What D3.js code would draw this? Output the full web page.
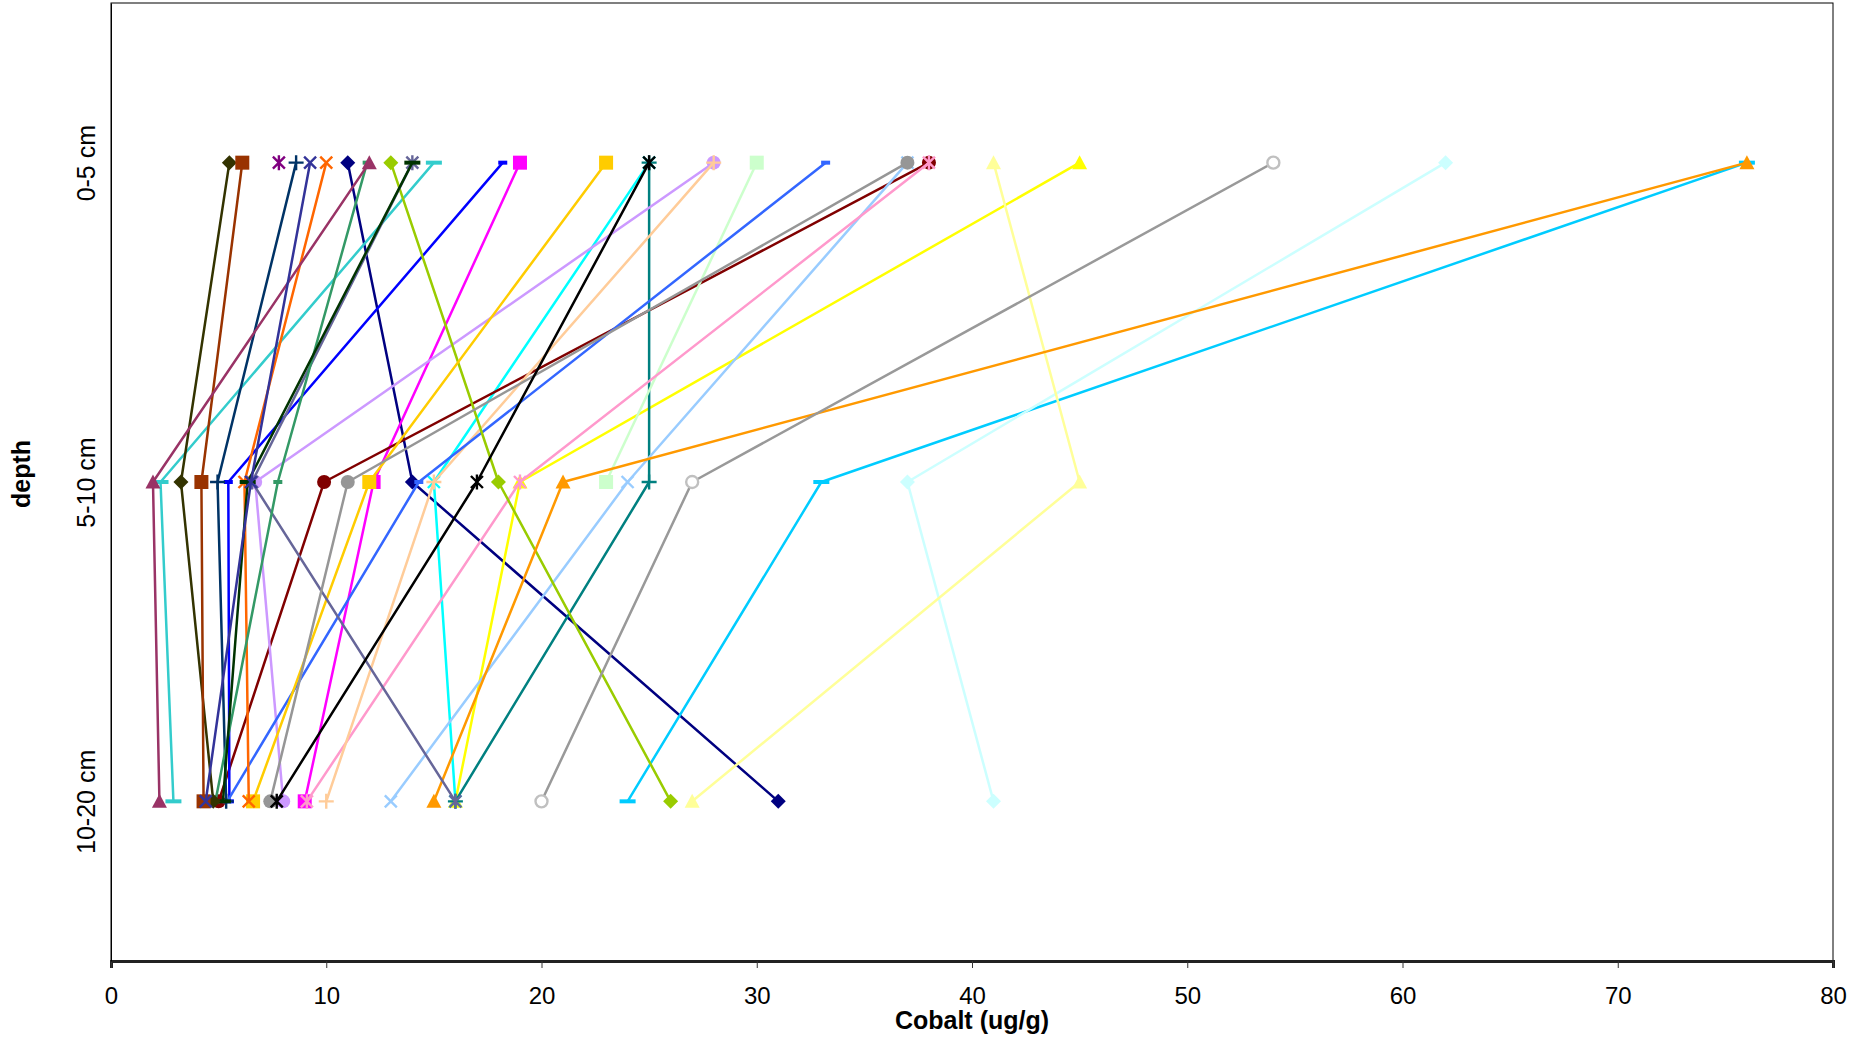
<!DOCTYPE html>
<html><head><meta charset="utf-8">
<script src="https://cdn.jsdelivr.net/npm/d3@7"></script>
<style>body{margin:0;background:#fff} svg{display:block}</style>
</head><body>
<svg id="c" width="1865" height="1037"></svg>
<script>
// ---- data ----
const categories = ["0-5 cm", "5-10 cm", "10-20 cm"];
const xTicks = [0, 10, 20, 30, 40, 50, 60, 70, 80];
const xTitle = "Cobalt (ug/g)";
const yTitle = "depth";

const seriesColors = [
  "#000080", "#FF00FF", "#FFFF00", "#00FFFF", "#800080", "#800000", "#008080", "#0000FF",
  "#00CCFF", "#CCFFFF", "#CCFFCC", "#FFFF99", "#99CCFF", "#FF99CC", "#CC99FF", "#FFCC99",
  "#3366FF", "#33CCCC", "#99CC00", "#FFCC00", "#FF9900", "#FF6600", "#666699", "#969696",
  "#003366", "#339966", "#003300", "#333300", "#993300", "#993366", "#333399", "#000000",
  "#999999"
];
const seriesMarkers = [
  "diamond", "square", "triangle", "x", "star", "circle", "plus", "shortdash",
  "longdash", "diamond", "square", "triangle", "x", "star", "circle", "plus",
  "shortdash", "longdash", "diamond", "square", "triangle", "x", "star", "circle",
  "plus", "shortdash", "longdash", "diamond", "square", "triangle", "x", "star",
  "opencircle"
];
// values per series at [0-5 cm, 5-10 cm, 10-20 cm]
const seriesValues = [
  [11.0, 14.0, 31.0],
  [19.0, 12.2, 9.0],
  [45.0, 19.0, 16.0],
  [25.0, 15.0, 16.0],
  [7.8, null, null],
  [38.0, 9.9, 5.0],
  [25.0, 25.0, 16.0],
  [18.2, 5.45, 5.5],
  [76.0, 33.0, 24.0],
  [62.0, 37.0, 41.0],
  [30.0, 23.0, null],
  [41.0, 45.0, 27.0],
  [37.0, 24.0, 13.0],
  [38.0, 19.0, 9.1],
  [28.0, 6.7, 8.0],
  [28.0, 15.0, 10.0],
  [33.2, 14.3, 5.4],
  [15.0, 2.3, 2.9],
  [13.0, 18.0, 26.0],
  [23.0, 12.0, 6.6],
  [76.0, 21.0, 15.0],
  [10.0, 6.2, 6.4],
  [14.0, 6.55, 16.0],
  [37.0, 11.0, 7.4],
  [8.6, 4.95, 5.35],
  [11.9, 7.75, 4.85],
  [14.0, 6.35, 5.2],
  [5.5, 3.25, 4.75],
  [6.1, 4.2, 4.3],
  [12.0, 1.95, 2.25],
  [9.25, 6.5, 4.4],
  [25.0, 17.0, 7.7],
  [54.0, 27.0, 20.0]
];

// ---- layout ----
const svg = d3.select("#c");
const L = 111, R = 1833, T = 3, B = 961;
const x = d3.scaleLinear().domain([0, 80]).range([L, R]);
const y = d3.scalePoint().domain(categories).range([T, B]).padding(0.5);
const FONT = "'Liberation Sans', Arial, sans-serif";

// plot frame
svg.append("rect").attr("x", L).attr("y", T).attr("width", R - L).attr("height", B - T)
  .attr("fill", "#fff").attr("stroke", "#000").attr("stroke-width", 1);

// x axis
const gx = svg.append("g").attr("transform", `translate(0,${B})`)
  .call(d3.axisBottom(x).tickValues(xTicks).tickSize(7).tickPadding(19).tickFormat(d3.format("d")));
gx.select(".domain").attr("stroke", "#222").attr("stroke-width", 3);
gx.selectAll(".tick line").attr("stroke", "#333").attr("stroke-width", 1);
gx.selectAll(".tick text").attr("font-family", FONT).attr("font-size", 24).attr("fill", "#000");

// y axis labels (rotated)
const gy = svg.append("g").attr("transform", `translate(${L},0)`)
  .call(d3.axisLeft(y).tickSize(0).tickPadding(0));
gy.select(".domain").attr("stroke", "#000").attr("stroke-width", 1);
gy.selectAll(".tick text")
  .attr("font-family", FONT).attr("font-size", 25).attr("fill", "#000")
  .attr("text-anchor", "middle").attr("x", null).attr("dy", null)
  .attr("transform", "translate(-16,0) rotate(-90)");

// titles
svg.append("text").attr("x", (L + R) / 2).attr("y", 1029).attr("text-anchor", "middle")
  .attr("font-family", FONT).attr("font-weight", "bold").attr("font-size", 25).text(xTitle);
svg.append("text").attr("transform", `translate(30,474) rotate(-90)`).attr("text-anchor", "middle")
  .attr("font-family", FONT).attr("font-weight", "bold").attr("font-size", 25).text(yTitle);

// ---- series ----
const line = d3.line().defined(d => d.v != null).x(d => x(d.v)).y(d => y(d.c));

function drawMarker(g, type, color, px, py) {
  const m = g.append("g").attr("transform", `translate(${px},${py})`);
  switch (type) {
    case "diamond":
      m.append("path").attr("d", "M0,-7.5L7.5,0L0,7.5L-7.5,0Z").attr("fill", color); break;
    case "square":
      m.append("rect").attr("x", -7).attr("y", -7).attr("width", 14).attr("height", 14).attr("fill", color); break;
    case "triangle":
      m.append("path").attr("d", "M0,-7.5L7.5,6.5L-7.5,6.5Z").attr("fill", color); break;
    case "circle":
      m.append("circle").attr("r", 7).attr("fill", color); break;
    case "opencircle":
      m.append("circle").attr("r", 6).attr("fill", "#fff").attr("stroke", "#C0C0C0").attr("stroke-width", 2.4); break;
    case "x":
      m.append("path").attr("d", "M-6,-6L6,6M-6,6L6,-6").attr("stroke", color).attr("stroke-width", 2.4).attr("fill", "none"); break;
    case "star":
      m.append("path").attr("d", "M-6,-6L6,6M-6,6L6,-6M0,-7.5L0,7.5").attr("stroke", color).attr("stroke-width", 2.4).attr("fill", "none"); break;
    case "plus":
      m.append("path").attr("d", "M-7.5,0L7.5,0M0,-7.5L0,7.5").attr("stroke", color).attr("stroke-width", 2.4).attr("fill", "none"); break;
    case "shortdash":
      m.append("rect").attr("x", -4.5).attr("y", -2).attr("width", 9).attr("height", 4).attr("fill", color); break;
    case "longdash":
      m.append("rect").attr("x", -8).attr("y", -2).attr("width", 16).attr("height", 4).attr("fill", color); break;
  }
}

const gs = svg.append("g");
seriesValues.forEach((vals, i) => {
  const pts = vals.map((v, j) => ({ v, c: categories[j] }));
  const g = gs.append("g");
  g.append("path").datum(pts).attr("d", line)
    .attr("fill", "none").attr("stroke", seriesColors[i]).attr("stroke-width", 2.5)
    .attr("stroke-linejoin", "round");
  pts.filter(p => p.v != null).forEach(p => drawMarker(g, seriesMarkers[i], seriesColors[i], x(p.v), y(p.c)));
});
</script>
</body></html>
